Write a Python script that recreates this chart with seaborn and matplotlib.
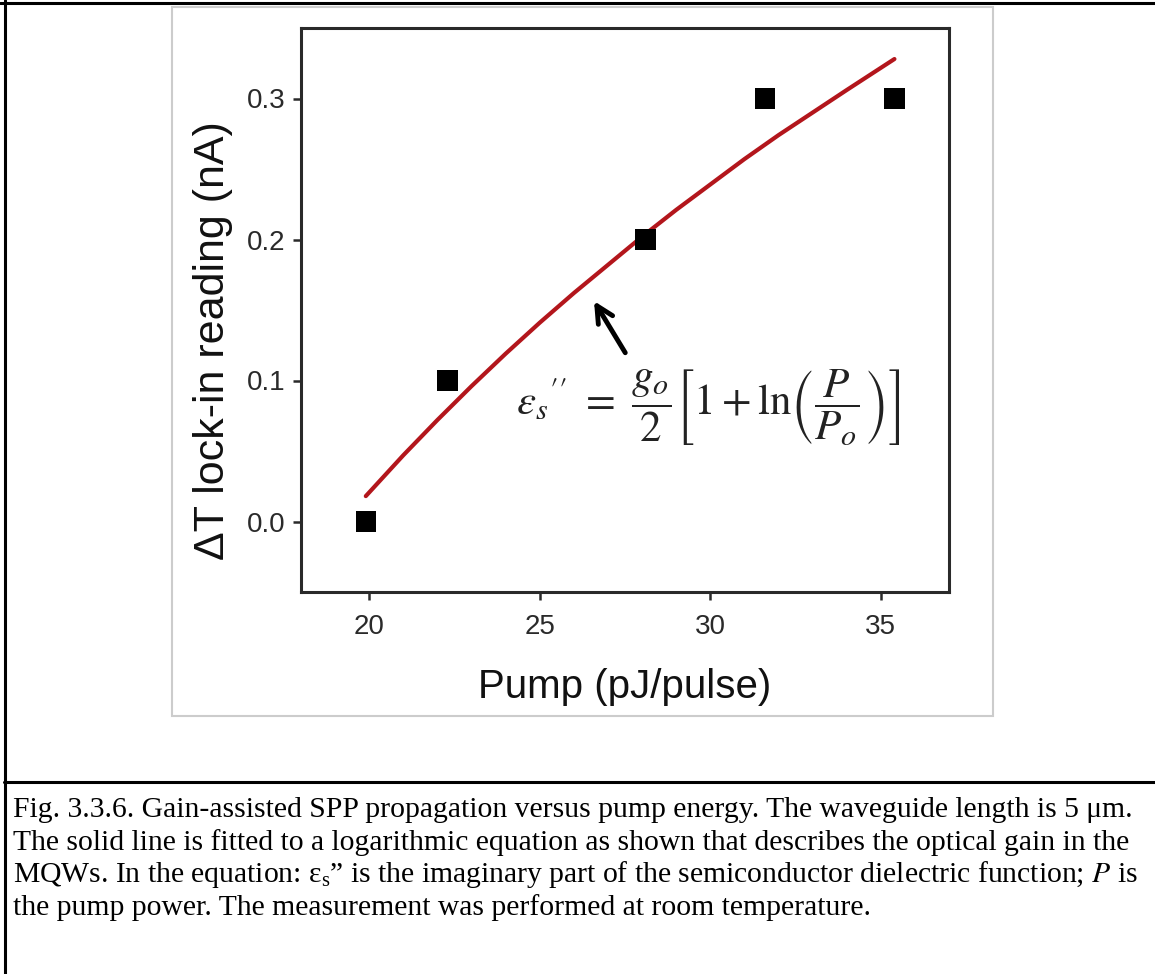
import numpy as np
import pandas as pd
import seaborn as sns
import matplotlib.pyplot as plt
from matplotlib.lines import Line2D
from matplotlib.patches import Rectangle

# measured points (squares)
pump = [19.9, 22.3, 28.1, 31.6, 35.4]
signal = [0.0, 0.1, 0.2, 0.3, 0.3]

# fitted curve
fit_pump = [19.9, 21, 22, 23, 24, 25, 26, 27, 28, 29, 30, 31, 32, 33, 34, 35.4]
fit_signal = [0.018, 0.047, 0.072, 0.096, 0.119, 0.141, 0.162, 0.182, 0.202,
              0.221, 0.239, 0.257, 0.274, 0.290, 0.306, 0.328]

x_ticks = [20, 25, 30, 35]
y_ticks = [0.0, 0.1, 0.2, 0.3]

caption = [
    'Fig. 3.3.6. Gain-assisted SPP propagation versus pump energy. The waveguide length is 5 μm.',
    'The solid line is fitted to a logarithmic equation as shown that describes the optical gain in the',
    'MQWs. In the equation: $\\mathregular{ε_s}$” is the imaginary part of the semiconductor dielectric function; $P$ is',
    'the pump power. The measurement was performed at room temperature.',
]

equation = (r'$\varepsilon_s{}^{\prime\prime}\ =\ \dfrac{g_o}{2}'
            r'\left[1+\ln\!\left(\dfrac{P}{P_o}\right)\right]$')

sns.set_theme(style='ticks')
plt.rcParams['font.family'] = ['Liberation Sans', 'DejaVu Sans']
plt.rcParams['mathtext.fontset'] = 'stix'

W, H = 1155, 974
fig = plt.figure(figsize=(W / 100, H / 100), dpi=100)
fig.patch.set_facecolor('white')

def fx(px):
    return px / W

def fy(py):
    return 1 - py / H

ax = fig.add_axes([fx(301), fy(592), fx(949) - fx(301), fy(28) - fy(592)])

sns.lineplot(x=fit_pump, y=fit_signal, ax=ax, color='#b3161c', lw=3,
             estimator=None, sort=True, zorder=2)
sns.scatterplot(x=pump, y=signal, ax=ax, marker='s', s=215, color='black',
                edgecolor='none', zorder=3)

ax.set_xlim(18, 37)
ax.set_ylim(-0.05, 0.35)
ax.set_xticks(x_ticks)
ax.set_yticks(y_ticks)
ax.set_yticklabels([f'{v:.1f}' for v in y_ticks])

for s in ax.spines.values():
    s.set_visible(True)
    s.set_linewidth(2.2)
    s.set_color('#2a2a2a')
ax.tick_params(axis='both', direction='out', length=6, width=1.8, color='#2a2a2a',
               labelsize=20, labelcolor='#2a2a2a', top=False, right=False)
ax.tick_params(axis='x', pad=10)
ax.tick_params(axis='y', pad=5)

ax.set_xlabel('Pump (pJ/pulse)', fontsize=29, color='#111111', labelpad=20)
ax.set_ylabel('ΔT lock-in reading (nA)', fontsize=31, color='#111111', va='center')
ax.yaxis.set_label_coords(-0.136, 0.445)

ax.annotate('', xy=(26.55, 0.158), xytext=(27.55, 0.118),
            arrowprops=dict(arrowstyle='->', lw=3.5, color='black', mutation_scale=30))
ax.text(29.95, 0.081, equation, ha='center', va='center', fontsize=31, color='#222222')

# picture frame and document box
fig.add_artist(Rectangle((fx(172), fy(716)), fx(993) - fx(172), fy(7) - fy(716),
                         transform=fig.transFigure, fill=False, ec='#cccccc', lw=1.5))
fig.add_artist(Line2D([0, 1], [fy(3), fy(3)], transform=fig.transFigure, color='black', lw=2.2))
fig.add_artist(Line2D([fx(4.5), fx(4.5)], [0, 1], transform=fig.transFigure, color='black', lw=2.2))
fig.add_artist(Line2D([fx(4), 1], [fy(782), fy(782)], transform=fig.transFigure, color='black', lw=2.2))

for i, line in enumerate(caption):
    fig.text(fx(13), fy(817 + 32.7 * i), line, ha='left', va='baseline', fontsize=21.3,
             family=['Liberation Serif', 'DejaVu Serif'], color='black')

fig.savefig('out.png', dpi=100, facecolor='white')
